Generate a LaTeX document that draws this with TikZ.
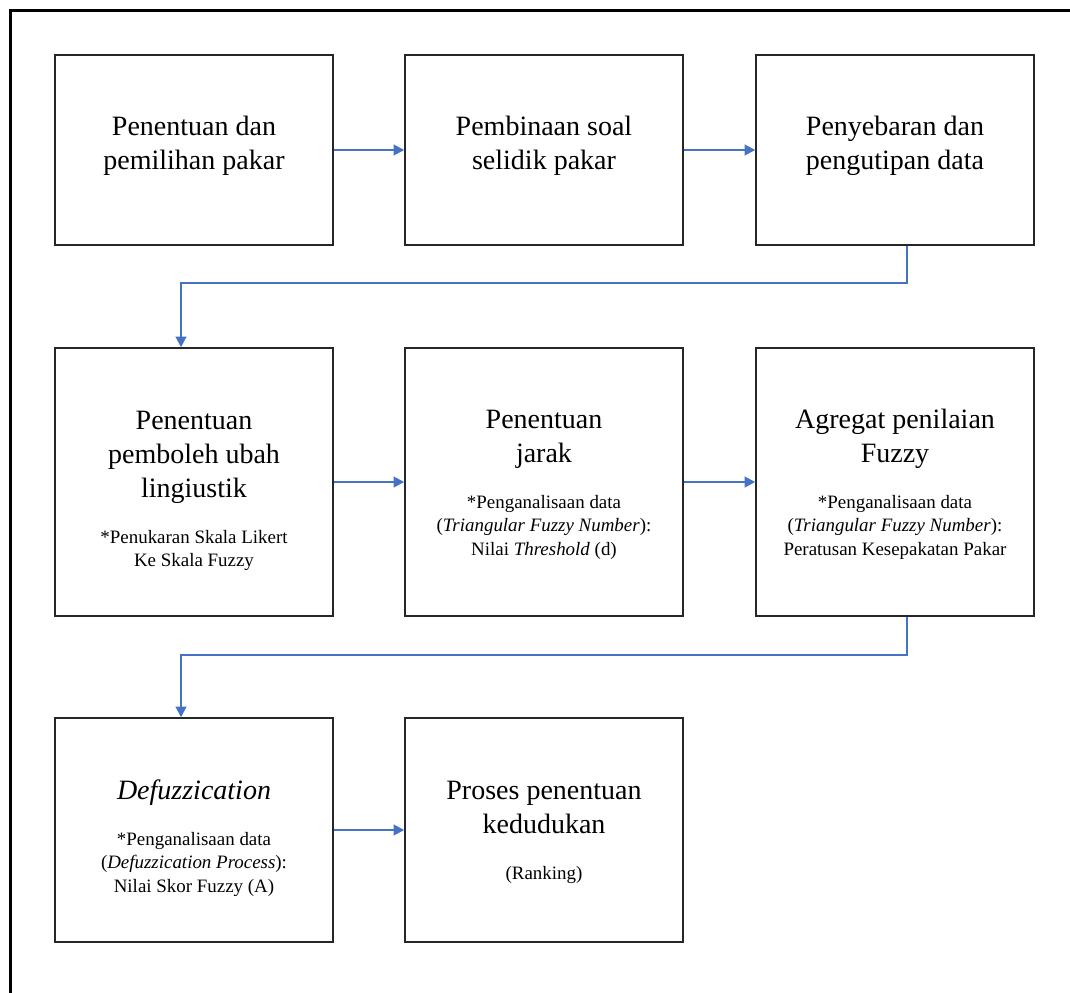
\documentclass[tikz,border=0pt]{standalone}
\usepackage{fontspec}
\setmainfont{Liberation Serif}
\usepackage{tikz}
\usetikzlibrary{arrows.meta}

\definecolor{flowblue}{HTML}{4472C4}
\newcommand{\ttl}{\fontsize{21}{25.5}\selectfont}
\newcommand{\subt}{\fontsize{14.2}{17.6}\selectfont}
% title block, then the smaller note under it (#1 = padding on top)
\newcommand{\boxtext}[3][-7.5pt]{\par\vspace*{#1}{\ttl #2\par}\vspace{16.9pt}{\subt #3\par}}
\newcommand{\ttlonly}[1]{\par\vspace*{-17pt}{\ttl #1\par}}

\begin{document}
\begin{tikzpicture}[x=0.75pt, y=-0.75pt,
    box/.style = {draw = black!85, line width = 1.1pt, shape = rectangle, inner sep = 0pt,
                  minimum width = 208.5pt, text width = 200pt, align = flush center},
    row1/.style = {box, minimum height = 142.5pt},
    row2/.style = {box, minimum height = 201pt},
    row3/.style = {box, minimum height = 168pt},
    flow/.style = {draw = flowblue, line width = 1.5pt, -{Triangle[length=8pt, width=8pt]}}]
    \useasboundingbox (0,0) rectangle (1070,992);
    \clip (0,0) rectangle (1070,992);
    \draw[line width = 2.3pt] (10.5,10.5) rectangle (1100,1020);

    \node[row1] (b1) at (194, 150) {\ttlonly{Penentuan dan\\pemilihan pakar}};
    \node[row1] (b2) at (544, 150) {\ttlonly{Pembinaan soal\\selidik pakar}};
    \node[row1] (b3) at (895, 150) {\ttlonly{Penyebaran dan\\pengutipan data}};

    \node[row2] (b4) at (194, 482) {\boxtext[1.5pt]{Penentuan\\pemboleh ubah\\lingiustik}
        {*Penukaran Skala Likert\\Ke Skala Fuzzy}};
    \node[row2] (b5) at (544, 482) {\boxtext{Penentuan\\jarak}
        {*Penganalisaan data\\(\textit{Triangular Fuzzy Number}):\\Nilai \textit{Threshold} (d)}};
    \node[row2] (b6) at (895, 482) {\boxtext{Agregat penilaian\\Fuzzy}
        {*Penganalisaan data\\(\textit{Triangular Fuzzy Number}):\\Peratusan Kesepakatan Pakar}};

    \node[row3] (b7) at (194, 830) {\boxtext[1.5pt]{\textit{Defuzzication}}
        {*Penganalisaan data\\(\textit{Defuzzication Process}):\\Nilai Skor Fuzzy (A)}};
    \node[row3] (b8) at (544, 830) {\boxtext{Proses penentuan\\kedudukan}
        {(Ranking)}};

    \draw[flow] (b1) -- (b2);
    \draw[flow] (b2) -- (b3);
    \draw[flow] ([xshift=9pt]b3.south) -- ++(0,37) -| ([xshift=-9.75pt]b4.north);
    \draw[flow] (b4) -- (b5);
    \draw[flow] (b5) -- (b6);
    \draw[flow] ([xshift=9pt]b6.south) -- ++(0,38) -| ([xshift=-9.75pt]b7.north);
    \draw[flow] (b7) -- (b8);
\end{tikzpicture}
\end{document}
